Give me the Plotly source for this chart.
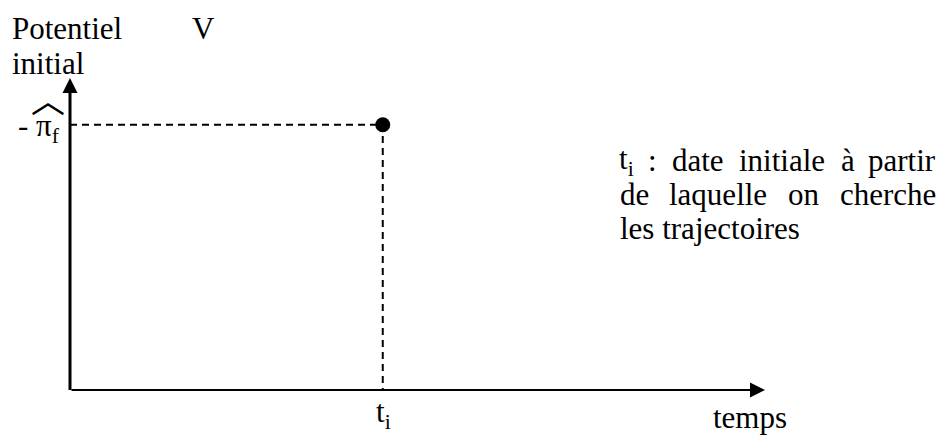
import plotly.graph_objects as go

W, H = 944, 436

# axis extents (arbitrary units) and the initial point
x_max = 10
y_max = 10
t_i = 4.5
pi_f = 8.5

y_title = ["Potentiel", "initial"]
y_unit = "V"
x_title = "temps"
point_x_label = "t<sub>i</sub>"
point_y_label = "- π<sub>f</sub>"
hat = "︿"
note_words = [
    ["t<sub>i</sub>", ":", "date", "initiale", "à", "partir"],
    ["de", "laquelle", "on", "cherche"],
    ["les trajectoires"],
]

# pixel geometry of the drawing
ox, oy = 70, 390
sx = (765 - ox) / x_max
sy = (oy - 78) / y_max

SERIF = "Times New Roman, Liberation Serif, DejaVu Serif, serif"
FONT = dict(family=SERIF, size=31, color="black")


def paper(px, py):
    return px / W, 1 - py / H


def label(text, px, py, xanchor="left", font=FONT):
    x, y = paper(px, py)
    return dict(text=text, x=x, y=y, xref="paper", yref="paper",
                xanchor=xanchor, yanchor="middle", showarrow=False, font=font)


def axis_arrow(x, y, ax, ay, width, size):
    return dict(x=x, y=y, ax=ax, ay=ay, xref="x", yref="y", axref="x", ayref="y",
                text="", showarrow=True, arrowhead=2, arrowsize=size,
                arrowwidth=width, arrowcolor="black", standoff=0, startstandoff=0)


fig = go.Figure()

# dashed guides from the axes to the point
fig.add_trace(go.Scatter(
    x=[0, t_i, t_i], y=[pi_f, pi_f, 0],
    mode="lines", line=dict(color="black", width=2, dash="7px,5px"),
    hoverinfo="skip",
))
fig.add_trace(go.Scatter(
    x=[t_i], y=[pi_f], mode="markers",
    marker=dict(color="black", size=15),
    hoverinfo="skip",
))

annotations = [
    axis_arrow(x_max, 0, 0, 0, 2, 1.5),
    axis_arrow(0, y_max, 0, -0.05, 3, 1),
    label(y_title[0], 10, 28.5),
    label(y_unit, 190, 28.5),
    label(y_title[1], 10, 63.5),
    label(point_y_label, 62, 128, xanchor="right"),
    label(hat, 48, 98, xanchor="center",
          font=dict(family="Noto Sans CJK SC", size=34, color="black")),
    label(point_x_label, 383, 414, xanchor="center"),
    label(x_title, 750, 417.5, xanchor="center"),
]

# justified note on the right: word anchors per line
word_pos = [
    [(617, "left"), (652, "center"), (698, "center"), (782, "center"), (848, "center"), (938, "right")],
    [(618, "left"), (718, "center"), (804, "center"), (938, "right")],
    [(618, "left")],
]
line_mid = [160.5, 194.5, 228.5]
for words, pos, py in zip(note_words, word_pos, line_mid):
    for w, (px, anchor) in zip(words, pos):
        annotations.append(label(w, px, py, xanchor=anchor))

fig.update_layout(
    width=W, height=H,
    margin=dict(l=0, r=0, t=0, b=0),
    paper_bgcolor="white", plot_bgcolor="white",
    showlegend=False,
    xaxis=dict(range=[(0 - ox) / sx, (W - ox) / sx], visible=False, fixedrange=True),
    yaxis=dict(range=[(oy - H) / sy, oy / sy], visible=False, fixedrange=True),
    annotations=annotations,
)

fig.write_html("out.html", config={"displayModeBar": False},
               post_script="document.body.style.margin = '0';")
